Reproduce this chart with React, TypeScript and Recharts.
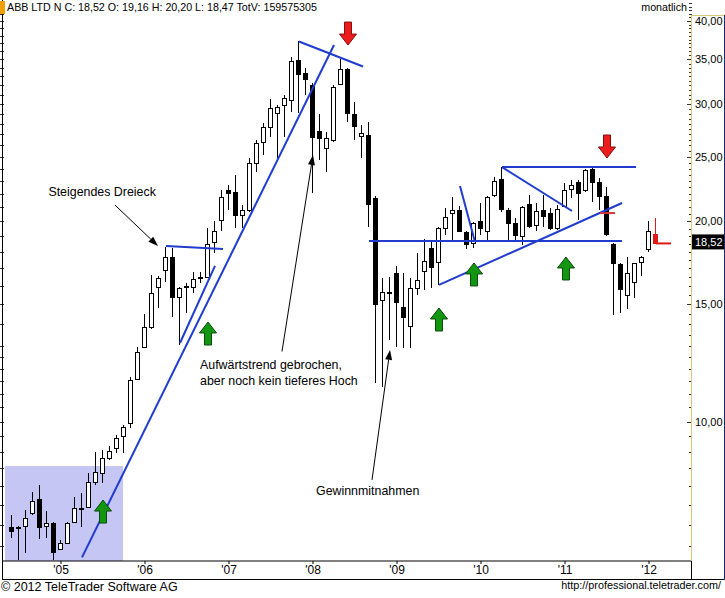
import React from "react";
import {
  ComposedChart,
  Bar,
  XAxis,
  YAxis,
  ReferenceArea,
  ReferenceLine,
  ReferenceDot,
} from "recharts";

const FONT = '"Liberation Sans", Arial, sans-serif';
const BLUE = "#1f3ccf";
const RED = "#e01818";

// ─── Monthly OHLC, Jun 2004 … Feb 2012 (last entry = running month) ─────────

const opens = [
  6.94, 6.93, 6.96, 7.28, 7.65, 6.96, 7.04, 6.43, 6.57, 7.06,
  7.42, 7.44, 8.11, 8.38, 8.81, 9.13, 9.51, 9.95, 11.58, 12.94,
  13.86, 15.92, 16.89, 17.67, 15.39, 15.95, 15.92, 16.45, 16.49, 18.61,
  20.08, 22.28, 22.13, 20.43, 20.79, 24.46, 26.3, 27.71, 29.07, 29.9,
  30.42, 34.93, 33.4, 32.04, 27.32, 25.77, 26.49, 32.15, 33.86, 28.98,
  26.86, 26.95, 21.67, 15.23, 15.62, 16.71, 14.86, 13.91, 15.87, 16.83,
  18.23, 17.37, 19.52, 20.57, 20.79, 19.27, 18.55, 20.01, 19.33, 21.89,
  23.14, 20.79, 19.87, 19.02, 21.22, 19.73, 20.79, 20.57, 19.52, 21.08,
  22.36, 22.9, 22.28, 23.96, 22.9, 21.82, 18.48, 17.25, 15.49, 16.21,
  17.37, 18.16, 19.16,
];

const highs = [
  7.23, 6.96, 7.36, 7.84, 8.03, 7.33, 7.06, 6.64, 7.06, 7.7,
  7.81, 8.38, 9.0, 9.06, 9.19, 9.54, 9.88, 11.66, 12.94, 14.5,
  16.6, 16.55, 18.29, 18.23, 15.92, 16.15, 16.78, 16.78, 19.52, 20.01,
  22.28, 22.67, 23.46, 21.15, 24.89, 26.49, 28.09, 30.52, 29.9, 30.95,
  35.29, 37.25, 34.0, 32.26, 28.98, 27.23, 32.04, 35.05, 34.0, 30.21,
  27.9, 28.19, 21.82, 16.43, 16.49, 17.13, 16.71, 16.43, 17.91, 18.81,
  18.61, 19.59, 20.93, 21.74, 21.08, 19.33, 19.94, 21.3, 21.82, 23.3,
  24.12, 20.93, 20.22, 21.08, 21.89, 21.3, 21.89, 20.93, 21.15, 22.83,
  23.06, 23.06, 23.96, 24.12, 23.22, 22.52, 18.55, 17.31, 17.67, 17.33,
  17.73, 20.01, 20.2,
];

const lows = [
  6.68, 6.2, 6.34, 7.23, 6.66, 6.68, 6.19, 6.41, 6.55, 7.05,
  6.94, 7.43, 8.03, 8.08, 8.75, 8.97, 8.97, 9.78, 11.54, 12.9,
  13.77, 14.81, 16.21, 14.36, 13.03, 14.56, 15.59, 16.15, 16.45, 17.91,
  19.33, 20.79, 19.52, 19.52, 20.65, 23.71, 25.15, 26.77, 24.89, 26.77,
  29.18, 29.07, 30.95, 22.05, 24.72, 23.71, 26.3, 32.04, 28.19, 26.49,
  24.89, 19.59, 11.42, 11.27, 13.26, 12.94, 12.9, 12.9, 15.49, 15.76,
  15.87, 16.04, 19.09, 18.74, 19.3, 18.16, 18.23, 19.09, 18.74, 21.74,
  20.65, 18.61, 18.74, 18.42, 19.52, 19.33, 19.59, 19.4, 19.4, 21.0,
  21.67, 20.08, 22.13, 21.37, 20.79, 19.02, 14.46, 14.56, 14.76, 15.34,
  16.55, 17.97, 18.47,
];

const closes = [
  6.85, 6.91, 7.16, 7.59, 6.94, 7.04, 6.37, 6.56, 7.04, 7.41,
  7.4, 8.11, 8.4, 8.82, 9.03, 9.44, 9.81, 11.54, 12.74, 13.86,
  15.62, 16.43, 17.67, 15.39, 15.87, 15.99, 16.37, 16.5, 18.48, 19.33,
  21.74, 22.05, 20.43, 20.79, 24.46, 26.21, 27.71, 29.59, 29.69, 30.63,
  34.81, 33.29, 32.71, 26.77, 26.67, 26.67, 31.82, 33.86, 29.07, 27.8,
  27.14, 21.22, 15.01, 15.65, 15.66, 15.12, 14.35, 15.87, 16.32, 17.43,
  17.07, 19.52, 20.29, 20.79, 19.33, 18.48, 19.87, 19.52, 21.74, 22.98,
  20.86, 19.87, 19.09, 21.0, 19.66, 20.72, 20.36, 19.52, 20.86, 22.28,
  22.67, 22.05, 23.87, 22.9, 21.82, 19.15, 17.31, 15.81, 16.71, 17.31,
  17.67, 19.33, 18.52,
];

// x axis: month index of each January and its label
const yearTickIdx = [7, 19, 31, 43, 55, 67, 79, 91];
const yearTickLabels = ["'05", "'06", "'07", "'08", "'09", "'10", "'11", "'12"];

// y axis (log)
const priceTicks = [10, 15, 20, 25, 30, 35, 40];
const priceTickLabels = ["10,00", "15,00", "20,00", "25,00", "30,00", "35,00", "40,00"];
const minorTicks: number[] = [];
for (let v = 6.5; v <= 42.5; v += 0.5) minorTicks.push(v);

const lastClose = 18.52;
const lastCloseLabel = "18,52";

// ─── Annotations (month index, price) ────────────────────────────────────────

// blue trend lines: [fromIdx, fromPrice, toIdx, toPrice]
const trendLines: [number, number, number, number][] = [
  [10, 6.25, 46, 36.79],
  [24, 13.12, 29, 17.13],
  [22, 18.35, 30.14, 18.16],
  [41, 37.25, 50.14, 34.16],
  [51, 18.68, 87.14, 18.68],
  [64, 22.59, 66.14, 18.61],
  [61, 16.04, 87.14, 21.3],
  [70, 24.12, 89.14, 24.12],
  [70, 24.12, 80, 20.72],
];

// black pointer lines from the notes, arrowhead at the second point
const pointers: [number, number, number, number][] = [
  [14.71, 21.15, 20.86, 18.35],
  [38.57, 12.74, 43, 25.15],
  [51.43, 8.17, 54, 12.81],
];

const noteAnchors: [number, number][] = [
  [5.2, 21.8],
  [26.86, 11.99],
  [43.43, 7.75],
];
const noteTexts = [
  ["Steigendes Dreieck"],
  ["Aufwärtstrend gebrochen,", "aber noch kein tieferes Hoch"],
  ["Gewinnmitnahmen"],
];

// arrow tips
const buyArrows: [number, number][] = [
  [13, 7.62],
  [28, 14.11],
  [61, 14.81],
  [66, 17.31],
  [79.14, 17.67],
];
const sellArrows: [number, number][] = [
  [48, 36.79],
  [85, 24.89],
];

// small red level marks: [fromIdx, toIdx, price]
const redMarks: [number, number, number][] = [
  [84, 86.14, 20.57],
  [92, 94.14, lastClose],
];

// shaded box at the start
const boxIdx = [-1, 15.86];
const boxTop = 8.57;

// ─── Scales ──────────────────────────────────────────────────────────────────

const X_MIN = -9 / 7;
const X_MAX = 680 / 7;
const Y_MIN = 6.171;
const Y_MAX = 42.85;

const candles = opens.map((open, i) => ({
  i,
  open,
  high: highs[i],
  low: lows[i],
  close: closes[i],
  range: [lows[i], highs[i]],
  live: i === opens.length - 1,
}));

// ─── Shapes ──────────────────────────────────────────────────────────────────

function Candle(props: any) {
  const { x, y, width, height } = props;
  const d = props.payload ?? props;
  if (x == null || y == null || d == null) return null;
  const top = Math.min(y, y + height);
  const h = Math.abs(height);
  const lh = Math.log(d.high);
  const span = lh - Math.log(d.low) || 1;
  const py = (v: number) => top + (h * (lh - Math.log(v))) / span;
  const c = Math.floor(x + width / 2);
  const bTop = Math.round(py(Math.max(d.open, d.close)));
  const bBot = Math.round(py(Math.min(d.open, d.close)));
  const ink = d.live ? RED : "#000";
  const fill = d.live ? RED : d.close >= d.open ? "#fff" : "#000";
  return (
    <g>
      <line
        x1={c + 0.5}
        x2={c + 0.5}
        y1={Math.round(top)}
        y2={Math.round(top + h)}
        stroke={ink}
        strokeWidth={1}
      />
      <rect
        x={c - 1.5}
        y={bTop + 0.5}
        width={4}
        height={Math.max(bBot - bTop, 1)}
        fill={fill}
        stroke={ink}
        strokeWidth={1}
      />
    </g>
  );
}

function PriceTick(props: any) {
  const { x, y, payload } = props;
  const v = payload.value;
  const k = priceTicks.indexOf(v);
  const yy = Math.round(y) + 0.5;
  const showLeft = v < 13 || Number.isInteger(v);
  return (
    <g>
      <line x1={x - (k >= 0 ? 5 : 3)} x2={x} y1={yy} y2={yy} stroke="#333" />
      {showLeft && <line x1={0} x2={4} y1={yy} y2={yy} stroke="#333" />}
      {k >= 0 && (
        <text x={x + 3} y={y + 4} fontFamily={FONT} fontSize={11} fill="#000">
          {priceTickLabels[k]}
        </text>
      )}
    </g>
  );
}

function Pointer(p: any) {
  const { x1, y1, x2, y2 } = p;
  const ang = Math.atan2(y2 - y1, x2 - x1);
  const L = 10;
  const W = 3.5;
  const bx = x2 - L * Math.cos(ang);
  const by = y2 - L * Math.sin(ang);
  const nx = -Math.sin(ang) * W;
  const ny = Math.cos(ang) * W;
  return (
    <g>
      <line x1={x1} y1={y1} x2={bx} y2={by} stroke="#000" strokeWidth={1} />
      <polygon points={`${x2},${y2} ${bx + nx},${by + ny} ${bx - nx},${by - ny}`} fill="#000" />
    </g>
  );
}

const arrowPts = [
  [0, 0],
  [8.5, 11],
  [3.5, 11],
  [3.5, 23],
  [-3.5, 23],
  [-3.5, 11],
  [-8.5, 11],
];

function BuyArrow({ cx, cy }: any) {
  return (
    <polygon
      points={arrowPts.map(([dx, dy]) => `${cx + dx},${cy + dy}`).join(" ")}
      fill="#129612"
      stroke="#0b4a0b"
      strokeWidth={1}
    />
  );
}

function SellArrow({ cx, cy }: any) {
  return (
    <polygon
      points={arrowPts.map(([dx, dy]) => `${cx + dx},${cy - dy}`).join(" ")}
      fill="#ea1c1c"
      stroke="#8a0c0c"
      strokeWidth={1}
    />
  );
}

const noteShape = (lines: string[]) => (p: any) => (
  <text x={p.cx} y={p.cy} fontFamily={FONT} fontSize={12.4} fill="#000">
    {lines.map((t, k) => (
      <tspan key={k} x={p.cx} dy={k === 0 ? 0 : 16}>
        {t}
      </tspan>
    ))}
  </text>
);

function LastBadge({ cx, cy }: any) {
  return (
    <g>
      <rect x={cx} y={cy - 9} width={32} height={15} fill="#000" />
      <text x={cx + 3} y={cy + 3} fontFamily={FONT} fontSize={11} fill="#fff">
        {lastCloseLabel}
      </text>
    </g>
  );
}

// ─── Main chart ──────────────────────────────────────────────────────────────

const abs = (s: React.CSSProperties): React.CSSProperties => ({ position: "absolute", ...s });

export default function App() {
  return (
    <div
      style={{
        position: "relative",
        width: 725,
        height: 598,
        background: "#fff",
        fontFamily: FONT,
        overflow: "hidden",
      }}
    >
      <style>{"body{margin:0}"}</style>

      <ComposedChart
        width={725}
        height={598}
        data={candles}
        margin={{ top: 1, right: 2, bottom: 19, left: 3 }}
      >
        <XAxis
          type="number"
          dataKey="i"
          domain={[X_MIN, X_MAX]}
          allowDataOverflow
          ticks={yearTickIdx}
          interval={0}
          tickFormatter={(v: number) => yearTickLabels[yearTickIdx.indexOf(v)] ?? ""}
          height={18}
          axisLine={{ stroke: "#000" }}
          tickLine={{ stroke: "#000" }}
          tickSize={3}
          tickMargin={1}
          tick={{ fontFamily: FONT, fontSize: 12, fill: "#000" }}
        />
        <YAxis
          orientation="right"
          scale="log"
          domain={[Y_MIN, Y_MAX]}
          allowDataOverflow
          ticks={minorTicks}
          interval={0}
          width={31}
          axisLine={false}
          tickLine={false}
          tickSize={0}
          tickMargin={0}
          tick={PriceTick}
        />

        <ReferenceArea
          x1={boxIdx[0]}
          x2={boxIdx[1]}
          y1={Y_MIN}
          y2={boxTop}
          fill="#c6c6f4"
          fillOpacity={1}
          stroke="none"
          ifOverflow="hidden"
        />

        <Bar
          dataKey="range"
          barSize={7}
          shape={Candle}
          isAnimationActive={false}
        />

        {trendLines.map(([a, b, c, d], k) => (
          <ReferenceLine
            key={`t${k}`}
            segment={[
              { x: a, y: b },
              { x: c, y: d },
            ]}
            stroke={BLUE}
            strokeWidth={2}
            ifOverflow="visible"
          />
        ))}

        {redMarks.map(([a, c, p], k) => (
          <ReferenceLine
            key={`r${k}`}
            segment={[
              { x: a, y: p },
              { x: c, y: p },
            ]}
            stroke={k === 0 ? "#d23a3a" : RED}
            strokeWidth={2}
            ifOverflow="visible"
          />
        ))}

        {pointers.map(([a, b, c, d], k) => (
          <ReferenceLine
            key={`p${k}`}
            segment={[
              { x: a, y: b },
              { x: c, y: d },
            ]}
            shape={Pointer}
            ifOverflow="visible"
          />
        ))}

        {buyArrows.map(([i, p], k) => (
          <ReferenceDot key={`b${k}`} x={i} y={p} shape={BuyArrow} ifOverflow="visible" />
        ))}
        {sellArrows.map(([i, p], k) => (
          <ReferenceDot key={`s${k}`} x={i} y={p} shape={SellArrow} ifOverflow="visible" />
        ))}

        {noteAnchors.map(([i, p], k) => (
          <ReferenceDot
            key={`n${k}`}
            x={i}
            y={p}
            shape={noteShape(noteTexts[k])}
            ifOverflow="visible"
          />
        ))}

        <ReferenceDot x={X_MAX} y={lastClose} shape={LastBadge} ifOverflow="visible" />
      </ComposedChart>

      {/* frame */}
      <div style={abs({ left: 2, top: 0, width: 1, height: 580, background: "#000" })} />
      <div style={abs({ left: 2, top: 579, width: 722, height: 1, background: "#000" })} />
      <div style={abs({ left: 691, top: 561, width: 1, height: 19, background: "#000" })} />
      <div style={abs({ left: 691, top: 15, width: 1, height: 546, background: "#dcc87a" })} />
      <div style={abs({ left: 691, top: 15, width: 34, height: 1, background: "#dcc87a" })} />
      <div style={abs({ left: 724, top: 15, width: 1, height: 565, background: "#1a2a6a" })} />

      {/* header */}
      <div style={abs({ left: 0, top: 1, width: 5, height: 13, background: "#f0a000" })} />
      <div style={abs({ left: 7, top: 1, fontSize: 10.7, lineHeight: "13px", whiteSpace: "nowrap" })}>
        ABB LTD N C: 18,52 O: 19,16 H: 20,20 L: 18,47 TotV: 159575305
      </div>
      <div
        style={abs({
          right: 725 - 687,
          top: 1,
          fontSize: 10.7,
          lineHeight: "13px",
          whiteSpace: "nowrap",
        })}
      >
        monatlich
      </div>

      {/* footer */}
      <div style={abs({ left: 1, top: 580, fontSize: 12.5, lineHeight: "15px", whiteSpace: "nowrap" })}>
        © 2012 TeleTrader Software AG
      </div>
      <div
        style={abs({
          right: 4,
          top: 579,
          fontSize: 10.8,
          lineHeight: "13px",
          whiteSpace: "nowrap",
        })}
      >
        http://professional.teletrader.com/
      </div>
    </div>
  );
}
